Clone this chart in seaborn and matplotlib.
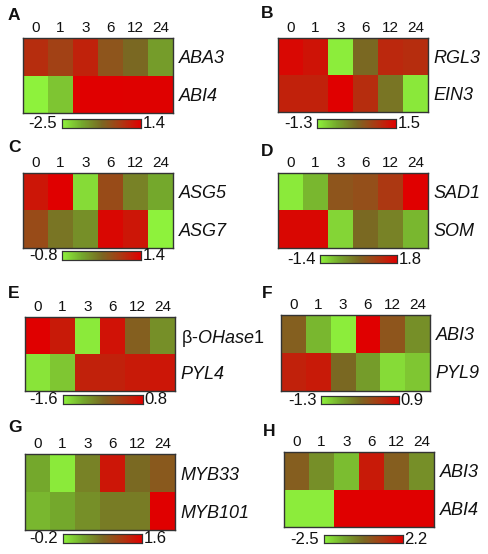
import numpy as np
import pandas as pd
import matplotlib
matplotlib.use("Agg")
import matplotlib.pyplot as plt
import seaborn as sns
from matplotlib.colors import LinearSegmentedColormap

sns.set_theme(style="white")
plt.rcParams['font.family'] = ['Liberation Sans', 'DejaVu Sans']
plt.rcParams['mathtext.fontset'] = 'custom'
plt.rcParams['mathtext.rm'] = 'Liberation Sans'
plt.rcParams['mathtext.it'] = 'Liberation Sans:italic'

timepoints = ["0", "1", "3", "6", "12", "24"]

panel_letters = ["A", "B", "C", "D", "E", "F", "G", "H"]
genes_A = ["ABA3", "ABI4"]
vals_A = [[0.62, 0.23, 0.80, -0.16, -0.55, -1.33],
          [-2.50, -1.90, 1.40, 1.40, 1.38, 1.38]]
range_A = (-2.5, 1.4)

genes_B = ["RGL3", "EIN3"]
vals_B = [[1.40, 1.25, -1.25, 0.10, 1.00, 0.94],
          [1.08, 1.08, 1.50, 0.94, -0.04, -1.20]]
range_B = (-1.3, 1.5)

genes_C = ["ASG5", "ASG7"]
vals_C = [[1.18, 1.40, -0.62, 0.63, 0.08, -0.25],
          [0.63, 0.19, -0.03, 1.33, 1.18, -0.80]]
range_C = (-0.8, 1.4)

genes_D = ["SAD1", "SOM"]
vals_D = [[-1.30, -0.76, 0.52, 0.62, 1.00, 1.80],
          [1.70, 1.70, -1.08, 0.20, -0.12, -0.76]]
range_D = (-1.4, 1.8)

genes_E = ["β-OHase1", "PYL4"]
vals_E = [[0.80, 0.51, -1.53, 0.61, -0.28, -0.76],
          [-1.48, -1.24, 0.44, 0.44, 0.51, 0.56]]
range_E = (-1.6, 0.8)

genes_F = ["ABI3", "PYL9"]
vals_F = [[-0.09, -0.86, -1.26, 0.90, 0.02, -0.53],
          [0.57, 0.64, -0.20, -0.64, -1.12, -0.97]]
range_F = (-1.3, 0.9)

genes_G = ["MYB33", "MYB101"]
vals_G = [[0.25, -0.15, 0.52, 1.42, 0.70, 0.84],
          [0.16, 0.25, 0.43, 0.56, 0.56, 1.60]]
range_G = (-0.2, 1.6)

genes_H = ["ABI3", "ABI4"]
vals_H = [[0.09, -0.86, -1.65, 1.64, 0.09, -0.86],
          [-2.40, -2.40, 2.20, 2.20, 2.20, 2.20]]
range_H = (-2.5, 2.2)

cmap = LinearSegmentedColormap.from_list(
    "gr", [(0.0, "#8ef23c"), (0.25, "#74a82c"), (0.5, "#7a6822"),
           (0.75, "#ac3812"), (1.0, "#e00000")])

W, H = 488, 554
fig = plt.figure(figsize=(W / 100, H / 100), dpi=100)


def px_axes(x0, y0, x1, y1):
    return fig.add_axes([x0 / W, 1 - y1 / H, (x1 - x0) / W, (y1 - y0) / H])


layout = [
    # heat box, cbar box, letter pos
    ((23, 38, 173, 113), (62, 119, 141, 128), (8, 15)),
    ((278, 38, 428, 112), (317, 119, 396, 128), (261, 13)),
    ((23, 173, 173, 248), (62, 251, 141, 260), (8, 148)),
    ((278, 173, 428, 248), (320, 255, 397, 263), (261, 152)),
    ((25, 317, 175, 391), (63, 395, 143, 404), (8, 293)),
    ((281, 315, 430, 391), (321, 396, 399, 404), (262, 293)),
    ((25, 454, 175, 530), (63, 534, 142, 543), (8, 427)),
    ((284, 452, 434, 527), (324, 535, 403, 543), (263, 431)),
]

panels = [(genes_A, vals_A, range_A), (genes_B, vals_B, range_B),
          (genes_C, vals_C, range_C), (genes_D, vals_D, range_D),
          (genes_E, vals_E, range_E), (genes_F, vals_F, range_F),
          (genes_G, vals_G, range_G), (genes_H, vals_H, range_H)]

for letter, (genes, vals, rng), (hb, cb, lp) in zip(panel_letters, panels, layout):
    df = pd.DataFrame(vals, index=genes, columns=timepoints)
    ax = px_axes(*hb)
    cax = px_axes(*cb)
    sns.heatmap(df, ax=ax, cmap=cmap, vmin=rng[0], vmax=rng[1],
                cbar=True, cbar_ax=cax, cbar_kws={"orientation": "horizontal"},
                linewidths=0)
    ax.xaxis.tick_top()
    ax.yaxis.tick_right()
    ax.tick_params(axis="x", length=0, pad=2, labelsize=11, colors="#111111")
    ax.tick_params(axis="y", length=0, pad=4, labelsize=13, colors="#111111")
    ax.set_xlabel("")
    ax.set_ylabel("")
    labels = []
    for g in genes:
        if g.startswith("β"):
            labels.append(r"β$\mathit{\text{-}OHase1}$")
        else:
            labels.append(g)
    ax.set_yticklabels(labels, rotation=0)
    for t in ax.get_yticklabels():
        if "β" not in t.get_text():
            t.set_fontstyle("italic")
    for s in ax.spines.values():
        s.set_visible(True)
        s.set_color("#333333")
        s.set_linewidth(1.0)
    cax.set_xticks([])
    cax.set_yticks([])
    for s in cax.spines.values():
        s.set_visible(True)
        s.set_color("#333333")
        s.set_linewidth(0.8)
    cax.text(-0.06, 0.45, f"{rng[0]:.1f}", transform=cax.transAxes,
             ha="right", va="center", fontsize=12, color="#111111")
    cax.text(1.02, 0.45, f"{rng[1]:.1f}", transform=cax.transAxes,
             ha="left", va="center", fontsize=12, color="#111111")
    fig.text(lp[0] / W, 1 - lp[1] / H, letter, ha="left", va="center",
             fontsize=12.5, fontweight="bold", color="#111111")

fig.savefig("out.png", dpi=100)
